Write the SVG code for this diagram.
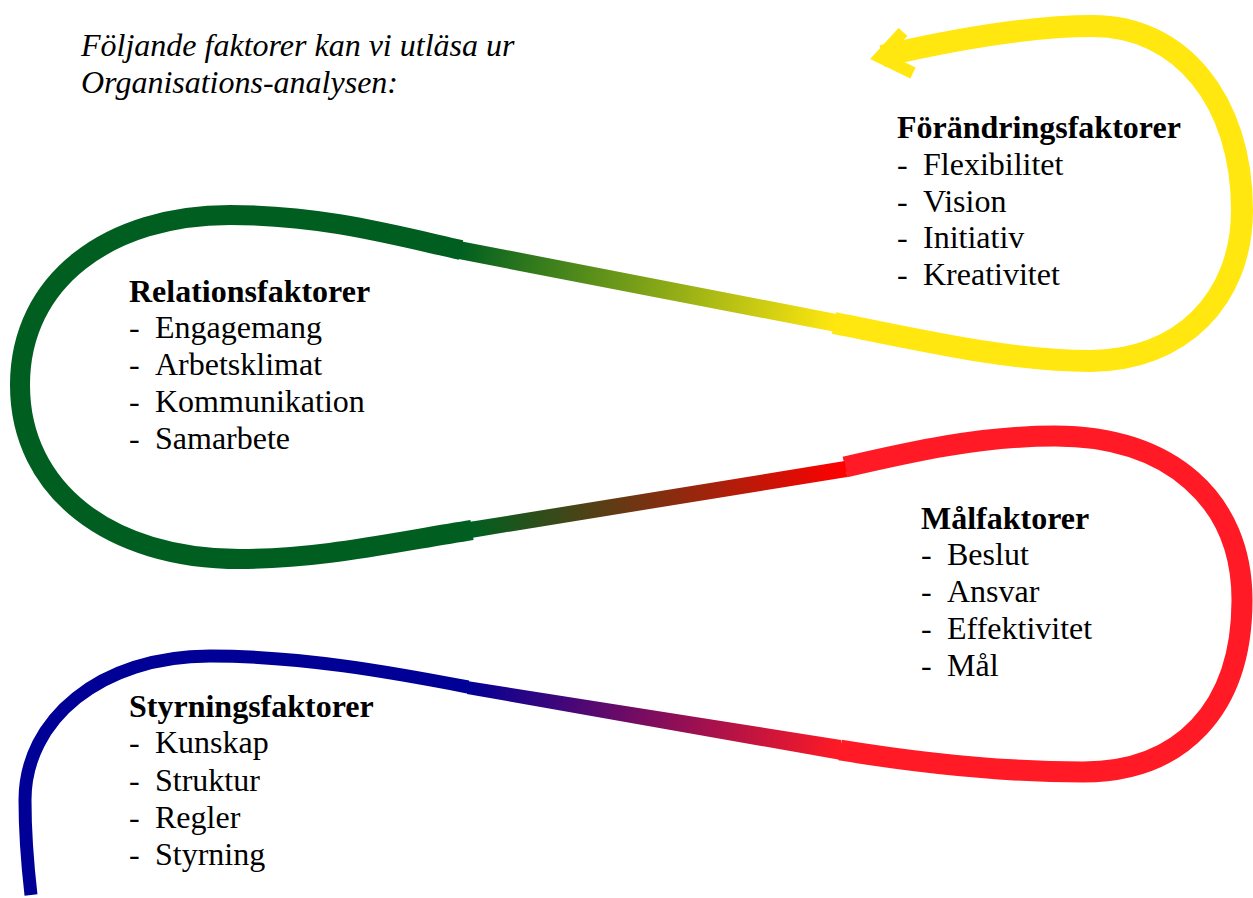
<svg xmlns="http://www.w3.org/2000/svg" width="1253" height="898" viewBox="0 0 1253 898">
<style>
  text { font-family: "Liberation Serif", "Times New Roman", serif; font-size: 32px; fill: #000; }
  .h { font-weight: bold; }
  .it { font-style: italic; }
  .seg { fill: none; stroke-linecap: butt; stroke-linejoin: round; }
</style>
<defs>
  <linearGradient id="gBR" gradientUnits="userSpaceOnUse" x1="467" y1="687" x2="840" y2="750">
    <stop offset="0" stop-color="#000096"/>
    <stop offset="1" stop-color="#FF1A25"/>
  </linearGradient>
  <linearGradient id="gRG" gradientUnits="userSpaceOnUse" x1="845" y1="469" x2="472" y2="530">
    <stop offset="0" stop-color="#FF0000"/>
    <stop offset="1" stop-color="#005F20"/>
  </linearGradient>
  <linearGradient id="gGY" gradientUnits="userSpaceOnUse" x1="460" y1="250" x2="835" y2="323">
    <stop offset="0" stop-color="#005F20"/>
    <stop offset="1" stop-color="#FFE70F"/>
  </linearGradient>
</defs>

<g id="connectors">
  <path class="seg" stroke="#000096" stroke-width="13" d="M 31 895 C 27 860 25 830 25 800 C 25 720 100 656 210 656 C 300 656 390 672 468 687"/>
  <polygon fill="url(#gBR)" points="467,681 841,740 841,760 467,694"/>
  <path class="seg" stroke="#FF1A25" stroke-width="21" d="M 840 750 C 920 763 1000 772 1083 772 C 1180 772 1242 710 1242 600 C 1242 500 1170 436 1055 436 C 980 436 910 452 845 467"/>
  <path class="seg" stroke="url(#gRG)" stroke-width="16" d="M 846 469 L 470 530"/>
  <path class="seg" stroke="#005F20" stroke-width="20" d="M 472 530 C 390 543 320 559 240 559 C 110 559 20 490 20 385 C 20 280 110 215 230 215 C 320 215 390 234 461 250"/>
  <path class="seg" stroke="url(#gGY)" stroke-width="18" d="M 459 250 L 836 323"/>
  <path class="seg" stroke="#FFE70F" stroke-width="22" d="M 834 323 C 920 340 1010 361 1090 361 C 1180 361 1242 300 1242 210 C 1242 100 1180 26 1093 26 C 1030 26 960 38 882 56"/>
  <path fill="none" stroke="#FFE70F" stroke-width="12" stroke-linejoin="miter" stroke-miterlimit="10" d="M 903 32 L 880 57 L 913 73"/>
</g>

<g id="intro">
  <text class="it" x="81" y="56">Följande faktorer kan vi utläsa ur</text>
  <text class="it" x="81" y="93">Organisations-analysen:</text>
</g>

<g id="forandringsfaktorer">
  <text class="h" x="897" y="138">Förändringsfaktorer</text>
  <text x="897" y="175">-<tspan x="923">Flexibilitet</tspan></text>
  <text x="897" y="212">-<tspan x="923">Vision</tspan></text>
  <text x="897" y="248">-<tspan x="923">Initiativ</tspan></text>
  <text x="897" y="285">-<tspan x="923">Kreativitet</tspan></text>
</g>

<g id="relationsfaktorer">
  <text class="h" x="129" y="302">Relationsfaktorer</text>
  <text x="129" y="338">-<tspan x="155">Engagemang</tspan></text>
  <text x="129" y="375">-<tspan x="155">Arbetsklimat</tspan></text>
  <text x="129" y="412">-<tspan x="155">Kommunikation</tspan></text>
  <text x="129" y="449">-<tspan x="155">Samarbete</tspan></text>
</g>

<g id="malfaktorer">
  <text class="h" x="921" y="529">Målfaktorer</text>
  <text x="921" y="565">-<tspan x="947">Beslut</tspan></text>
  <text x="921" y="602">-<tspan x="947">Ansvar</tspan></text>
  <text x="921" y="639">-<tspan x="947">Effektivitet</tspan></text>
  <text x="921" y="676">-<tspan x="947">Mål</tspan></text>
</g>

<g id="styrningsfaktorer">
  <text class="h" x="129" y="717">Styrningsfaktorer</text>
  <text x="129" y="753">-<tspan x="155">Kunskap</tspan></text>
  <text x="129" y="791">-<tspan x="155">Struktur</tspan></text>
  <text x="129" y="828">-<tspan x="155">Regler</tspan></text>
  <text x="129" y="865">-<tspan x="155">Styrning</tspan></text>
</g>
</svg>
